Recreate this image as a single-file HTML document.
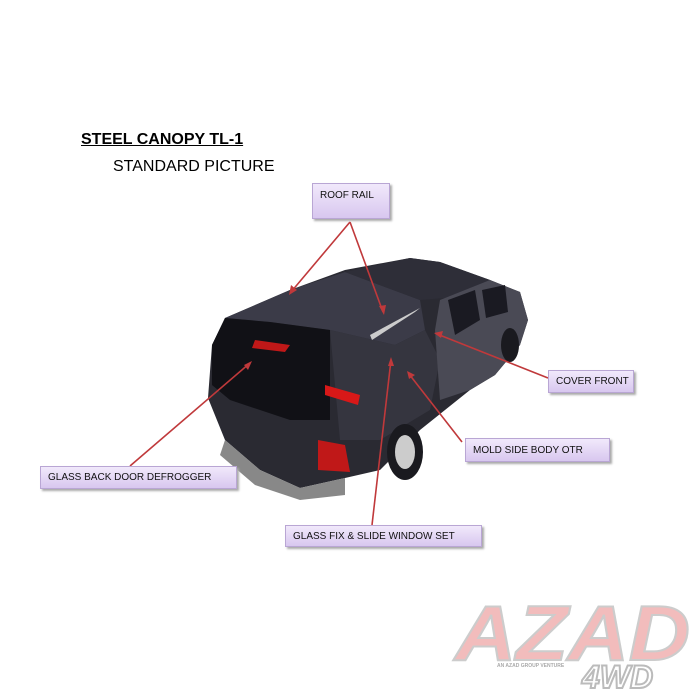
<!DOCTYPE html>
<html><head><meta charset="utf-8"><style>
body{margin:0;background:#fff;}
.w{position:relative;width:700px;height:700px;overflow:hidden;font-family:"Liberation Sans",sans-serif;}
.box{position:absolute;background:linear-gradient(#f1e9fb,#d8c7ef);border:1px solid #b9a6d4;box-shadow:2px 2px 2px #aaa;font-size:10px;color:#111;display:flex;align-items:center;padding-left:7px;box-sizing:border-box;}
</style></head><body><div class="w">
<div style="position:absolute;left:81px;top:131px;font-size:16px;font-weight:bold;text-decoration:underline;">STEEL CANOPY TL-1</div>
<div style="position:absolute;left:113px;top:158px;font-size:16px;">STANDARD PICTURE</div>
<svg width="700" height="700" style="position:absolute;left:0;top:0">
<defs><linearGradient id="g" x1="0" y1="0" x2="1" y2="1"><stop offset="0" stop-color="#3a3a44"/><stop offset="1" stop-color="#16161c"/></linearGradient></defs>
<!-- truck body -->
<polygon points="208,398 212,345 225,318 290,290 345,270 410,258 440,262 490,280 520,292 528,320 520,345 495,375 470,390 420,430 380,470 345,478 300,488 260,470 225,440" fill="#2a2a32"/>
<polygon points="225,318 290,290 345,272 420,300 425,330 395,345 330,330 270,322" fill="#3b3b48"/>
<polygon points="345,272 410,258 440,262 490,280 470,296 420,300" fill="#2e2e38"/>
<polygon points="212,345 225,318 270,322 330,330 330,420 290,420 230,400 212,385" fill="#111116"/>
<polygon points="330,330 395,345 425,330 440,360 430,410 380,440 340,440" fill="#35353f"/>
<polygon points="440,300 490,280 520,292 528,320 520,345 495,375 470,390 440,400 435,330" fill="#4a4a55"/>
<polygon points="448,300 475,290 480,320 455,335" fill="#1a1a22"/>
<polygon points="482,290 505,285 508,312 486,318" fill="#1a1a22"/>
<polygon points="370,335 420,308 415,312 372,340" fill="#ccc"/>
<polygon points="255,340 290,345 285,352 252,348" fill="#c01818"/>
<polygon points="318,440 345,445 350,472 318,470" fill="#c01818"/>
<polygon points="325,385 360,395 358,405 325,395" fill="#d81818"/>
<ellipse cx="405" cy="452" rx="18" ry="28" fill="#1a1a1f"/><ellipse cx="405" cy="452" rx="10" ry="17" fill="#ccc"/>
<ellipse cx="510" cy="345" rx="9" ry="17" fill="#1a1a1f"/>
<polygon points="225,440 260,470 300,488 345,478 345,495 300,500 255,485 220,455" fill="#888"/>
<g stroke="#c0393b" stroke-width="1.6" fill="#c0393b">
<line x1="350" y1="222" x2="291" y2="292"/><line x1="350" y1="222" x2="383" y2="312"/>
<line x1="548" y1="378" x2="437" y2="334"/><line x1="462" y1="442" x2="409" y2="374"/>
<line x1="130" y1="466" x2="250" y2="363"/><line x1="372" y1="525" x2="391" y2="360"/>
</g>
<g fill="#c0393b">
<polygon points="289,295 291,285 297,290"/><polygon points="384,315 379,306 386,305"/>
<polygon points="434,333 443,331 441,338"/><polygon points="407,371 415,375 409,379"/>
<polygon points="252,361 248,370 244,365"/><polygon points="391,357 394,366 388,366"/>
</g>
<text x="455" y="660" font-family="Liberation Sans" font-weight="bold" font-style="italic" font-size="78" fill="#f2bcbc" stroke="#ccc" stroke-width="2" textLength="235" lengthAdjust="spacingAndGlyphs">AZAD</text>
<text x="582" y="688" font-family="Liberation Sans" font-weight="bold" font-style="italic" font-size="32" fill="#fff" stroke="#bbb" stroke-width="2">4WD</text>
<text x="497" y="667" font-family="Liberation Sans" font-weight="bold" font-size="5" fill="#aaa">AN AZAD GROUP VENTURE</text>
</svg>
<div class="box" style="left:312px;top:183px;width:78px;height:36px;align-items:flex-start;padding-top:6px;">ROOF RAIL</div>
<div class="box" style="left:548px;top:370px;width:86px;height:23px;">COVER FRONT</div>
<div class="box" style="left:465px;top:438px;width:145px;height:24px;">MOLD SIDE BODY OTR</div>
<div class="box" style="left:40px;top:466px;width:197px;height:23px;">GLASS BACK DOOR DEFROGGER</div>
<div class="box" style="left:285px;top:525px;width:197px;height:22px;">GLASS FIX &amp; SLIDE WINDOW SET</div>
</div></body></html>
